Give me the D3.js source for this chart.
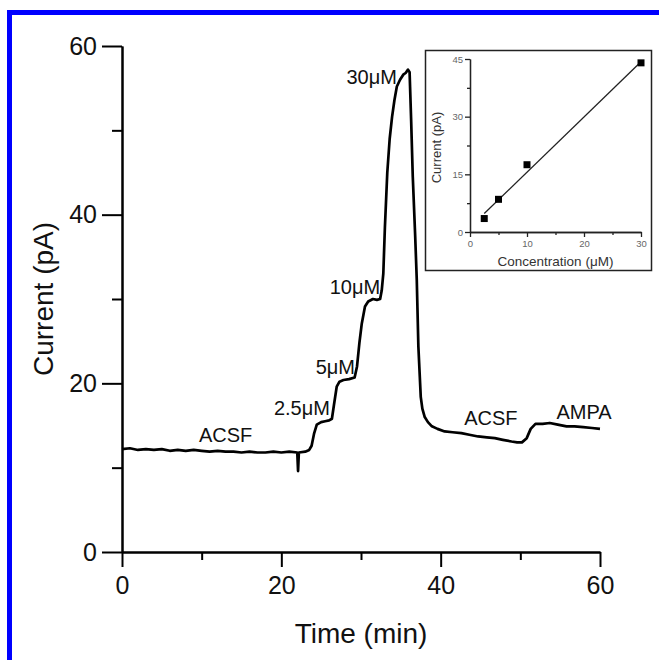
<!DOCTYPE html>
<html>
<head>
<meta charset="utf-8">
<script src="https://cdn.jsdelivr.net/npm/d3@7"></script>
<style>
  body { margin: 0; background: #fff; }
  svg { display: block; font-family: "Liberation Sans", Arial, sans-serif; }
</style>
</head>
<body>
<div id="chart"></div>
<script>
'use strict';

// main trace (time in min, current in pA)
const timeMin = [
  0, 1, 2, 3, 4, 5, 6, 7, 8, 9, 10, 11, 12, 13, 14, 15, 16, 17, 18, 19, 20, 21, 22,
  22.1, 22.2, 23, 23.5, 23.8, 24.1, 24.45, 25, 25.5, 26, 26.35, 26.6, 26.95, 27.3, 27.8,
  28.5, 29.2, 29.5, 29.8, 30.1, 30.5, 30.9, 31.5, 32, 32.4, 32.6, 32.8, 33, 33.3, 33.6,
  33.9, 34.2, 34.5, 34.9, 35.3, 35.6, 35.9, 36.1, 36.3, 36.5, 36.8, 37, 37.2, 37.5, 37.7,
  38, 38.4, 38.9, 39.6, 40.5, 41.5, 42.6, 43.6, 44.7, 45.8, 46.8, 47.8, 48.9, 49.6, 50.2,
  50.8, 51.3, 51.9, 52.8, 53.7, 54.7, 55.8, 56.8, 57.9, 59, 60
];
const currentPA = [
  12.2, 12.3, 12.1, 12.2, 12.1, 12.2, 12.0, 12.1, 12.0, 12.1, 12.0, 11.9, 12.0, 11.9, 11.9, 11.8, 11.9, 11.8, 11.8, 11.9, 11.8, 11.9, 11.8,
  9.6, 11.8, 11.9, 12.1, 12.6, 14.0, 15.1, 15.4, 15.5, 15.6, 15.8, 17.4, 19.6, 20.2, 20.4,
  20.5, 20.7, 22.0, 24.8, 27.1, 29.1, 29.7, 30.0, 29.9, 30.0, 31.0, 33.0, 38.5, 45.0, 49.0,
  51.6, 53.6, 55.2, 56.0, 56.6, 56.8, 57.2, 56.9, 51.0, 44.5, 37.5, 32.3, 24.4, 18.4, 17.0,
  16.0, 15.4, 14.9, 14.6, 14.3, 14.2, 14.1, 13.9, 13.7, 13.6, 13.5, 13.3, 13.1, 13.0, 13.0,
  13.5, 14.6, 15.2, 15.2, 15.3, 15.1, 14.9, 14.9, 14.8, 14.7, 14.6
];

// annotations on the trace (anchor in data units)
const noteText = ['ACSF', '2.5\u03bcM', '5\u03bcM', '10\u03bcM', '30\u03bcM', 'ACSF', 'AMPA'];
const noteTime = [13.0, 26.1, 29.25, 32.4, 34.5, 46.3, 58.0];
const noteCurrent = [13.0, 16.2, 21.1, 30.6, 55.5, 15.1, 15.8];
const noteAnchor = ['middle', 'end', 'end', 'end', 'end', 'middle', 'middle'];

// main axes ticks
const mainXMajor = [0, 20, 40, 60];
const mainXMinor = [10, 30, 50];
const mainYMajor = [0, 20, 40, 60];
const mainYMinor = [10, 30, 50];

// inset: calibration points and fitted line
const concUM = [2.5, 5, 10, 30];
const insetCurrent = [3.5, 8.5, 17.5, 44.0];
const fitConc = [2.5, 30];
const fitCurrent = [4.8, 44.3];
const insetXMajor = [0, 10, 20, 30];
const insetXMinor = [5, 15, 25];
const insetYMajor = [0, 15, 30, 45];
const insetYMinor = [7.5, 22.5, 37.5];

const width = 659;
const height = 660;

const svg = d3.select('#chart')
  .append('svg')
    .attr('width', width)
    .attr('height', height);

// blue frame round the figure
svg.append('rect')
  .attr('x', 9.5)
  .attr('y', 12.5)
  .attr('width', 700)
  .attr('height', 700)
  .attr('fill', 'none')
  .attr('stroke', '#0000ff')
  .attr('stroke-width', 5);

// ---------- main chart ----------
const x = d3.scaleLinear().domain([0, 60]).range([122, 600]);
const y = d3.scaleLinear().domain([0, 60]).range([552, 46]);

function styleAxis (g, fontSize) {
  g.select('.domain').attr('stroke', '#000').attr('stroke-width', 2);
  g.selectAll('.tick line').attr('stroke', '#000').attr('stroke-width', 2);
  g.selectAll('.tick text')
    .attr('fill', '#111')
    .style('font-size', fontSize + 'px')
    .style('font-family', '"Liberation Sans", Arial, sans-serif');
}

// minor ticks first so the major axis sits on top
svg.append('g')
  .attr('transform', `translate(0,${y(0)})`)
  .call(d3.axisBottom(x).tickValues(mainXMinor).tickSize(8).tickSizeOuter(0).tickFormat(''))
  .call(g => styleAxis(g, 25));
svg.append('g')
  .attr('transform', `translate(0,${y(0)})`)
  .call(d3.axisBottom(x).tickValues(mainXMajor).tickSize(15).tickSizeOuter(0).tickPadding(9))
  .call(g => styleAxis(g, 25));

svg.append('g')
  .attr('transform', `translate(${x(0)},0)`)
  .call(d3.axisLeft(y).tickValues(mainYMinor).tickSize(10).tickSizeOuter(0).tickFormat(''))
  .call(g => styleAxis(g, 25));
svg.append('g')
  .attr('transform', `translate(${x(0)},0)`)
  .call(d3.axisLeft(y).tickValues(mainYMajor).tickSize(20).tickSizeOuter(0).tickPadding(5))
  .call(g => styleAxis(g, 25));

svg.append('text')
  .attr('x', (x(0) + x(60)) / 2)
  .attr('y', 643)
  .attr('text-anchor', 'middle')
  .style('font-size', '28px')
  .attr('fill', '#111')
  .text('Time (min)');

svg.append('text')
  .attr('transform', `translate(53,${(y(0) + y(60)) / 2}) rotate(-90)`)
  .attr('text-anchor', 'middle')
  .style('font-size', '28px')
  .attr('fill', '#111')
  .text('Current (pA)');

const trace = timeMin.map((t, i) => [t, currentPA[i]]);
svg.append('path')
  .datum(trace)
  .attr('fill', 'none')
  .attr('stroke', '#000')
  .attr('stroke-width', 2.7)
  .attr('stroke-linejoin', 'round')
  .attr('d', d3.line().x(d => x(d[0])).y(d => y(d[1])));

svg.selectAll('text.note')
  .data(noteText)
  .join('text')
    .attr('class', 'note')
    .attr('x', (d, i) => x(noteTime[i]))
    .attr('y', (d, i) => y(noteCurrent[i]))
    .attr('text-anchor', (d, i) => noteAnchor[i])
    .style('font-size', '20px')
    .attr('fill', '#111')
    .text(d => d);

// ---------- inset ----------
svg.append('rect')
  .attr('x', 425.5)
  .attr('y', 50.5)
  .attr('width', 226)
  .attr('height', 220)
  .attr('fill', '#fff')
  .attr('stroke', '#222')
  .attr('stroke-width', 1.5);

const ix = d3.scaleLinear().domain([0, 30]).range([470, 641]);
const iy = d3.scaleLinear().domain([0, 45]).range([232, 59]);

function styleInset (g) {
  g.select('.domain').attr('stroke', '#222').attr('stroke-width', 1.3);
  g.selectAll('.tick line').attr('stroke', '#222').attr('stroke-width', 1.3);
  g.selectAll('.tick text')
    .attr('fill', '#666')
    .style('font-size', '9.5px')
    .style('font-family', '"Liberation Sans", Arial, sans-serif');
}

svg.append('g')
  .attr('transform', `translate(0,${iy(0)})`)
  .call(d3.axisBottom(ix).tickValues(insetXMinor).tickSize(3).tickSizeOuter(0).tickFormat(''))
  .call(styleInset);
svg.append('g')
  .attr('transform', `translate(0,${iy(0)})`)
  .call(d3.axisBottom(ix).tickValues(insetXMajor).tickSize(5).tickSizeOuter(0).tickPadding(3))
  .call(styleInset);
svg.append('g')
  .attr('transform', `translate(${ix(0)},0)`)
  .call(d3.axisLeft(iy).tickValues(insetYMinor).tickSize(3).tickSizeOuter(0).tickFormat(''))
  .call(styleInset);
svg.append('g')
  .attr('transform', `translate(${ix(0)},0)`)
  .call(d3.axisLeft(iy).tickValues(insetYMajor).tickSize(5).tickSizeOuter(0).tickPadding(2))
  .call(styleInset);

svg.append('text')
  .attr('x', (ix(0) + ix(30)) / 2)
  .attr('y', 266)
  .attr('text-anchor', 'middle')
  .style('font-size', '13.5px')
  .attr('fill', '#333')
  .text('Concentration (\u03bcM)');

svg.append('text')
  .attr('transform', `translate(441,${(iy(0) + iy(45)) / 2 + 2}) rotate(-90)`)
  .attr('text-anchor', 'middle')
  .style('font-size', '13px')
  .attr('fill', '#333')
  .text('Current (pA)');

const fit = fitConc.map((c, i) => [c, fitCurrent[i]]);
svg.append('path')
  .datum(fit)
  .attr('fill', 'none')
  .attr('stroke', '#222')
  .attr('stroke-width', 1.3)
  .attr('d', d3.line().x(d => ix(d[0])).y(d => iy(d[1])));

svg.selectAll('rect.pt')
  .data(concUM)
  .join('rect')
    .attr('class', 'pt')
    .attr('x', d => ix(d) - 3.5)
    .attr('y', (d, i) => iy(insetCurrent[i]) - 3.5)
    .attr('width', 7)
    .attr('height', 7)
    .attr('fill', '#000');
</script>
</body>
</html>
